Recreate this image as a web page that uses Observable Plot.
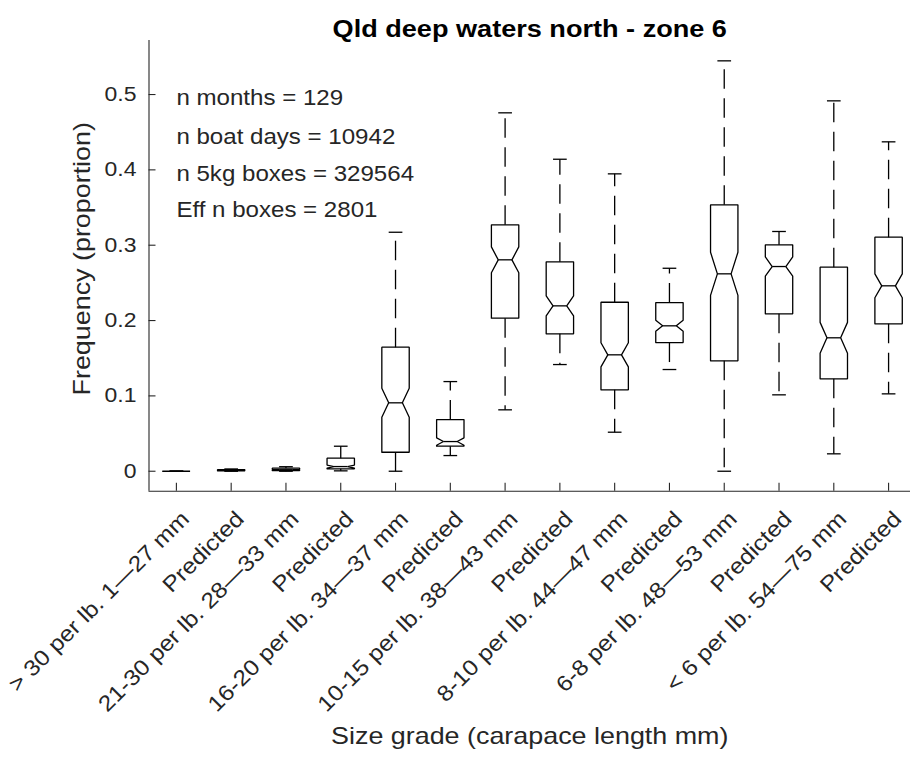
<!DOCTYPE html>
<html><head><meta charset="utf-8">
<script src="https://cdn.jsdelivr.net/npm/d3@7"></script>
<script src="https://cdn.jsdelivr.net/npm/@observablehq/plot@0.6"></script>
<style>body{margin:0;background:#fff;}</style>
</head><body><div id="chart"></div>
<script>
const categories = [
  "> 30 per lb. 1\u201427 mm", "Predicted",
  "21-30 per lb. 28\u201433 mm", "Predicted",
  "16-20 per lb. 34\u201437 mm", "Predicted",
  "10-15 per lb. 38\u201443 mm", "Predicted",
  "8-10 per lb. 44\u201447 mm", "Predicted",
  "6-8 per lb. 48\u201453 mm", "Predicted",
  "< 6 per lb. 54\u201475 mm", "Predicted"
];
const whiskerLow  = [0, 0,      0,     0.0005, 0.0,    0.0208, 0.0815, 0.1416, 0.0518, 0.135,  0.0,    0.1014, 0.0231, 0.1027];
const q1          = [0, 0.0005, 0.001, 0.0032, 0.0252, 0.0332, 0.2031, 0.1824, 0.108,  0.1708, 0.1465, 0.2089, 0.1226, 0.1956];
const median      = [0, 0.001,  0.002, 0.0062, 0.0908, 0.0394, 0.2806, 0.2195, 0.1545, 0.193,  0.262,  0.2717, 0.1771, 0.2461];
const q3          = [0, 0.002,  0.004, 0.0173, 0.1646, 0.0686, 0.3271, 0.2779, 0.2243, 0.2239, 0.3536, 0.3005, 0.2708, 0.3106];
const whiskerHigh = [0, 0.003,  0.006, 0.0332, 0.3172, 0.119,  0.4757, 0.4141, 0.3947, 0.2694, 0.5447, 0.3182, 0.4916, 0.4372];
const yTicks = [0, 0.1, 0.2, 0.3, 0.4, 0.5];
const yTickLabels = ["0", "0.1", "0.2", "0.3", "0.4", "0.5"];
const annotations = ["n months = 129", "n boat days = 10942", "n 5kg boxes = 329564", "Eff n boxes = 2801"];
const annotationY = [0.495, 0.444, 0.395, 0.346];
const nMonths = 129;
const titleText = "Qld deep waters north - zone 6";
const xLabel = "Size grade (carapace length mm)";
const yLabel = "Frequency (proportion)";

const yDomain = [-0.0265, 0.5717];
const xDomain = [0.5, 14.4];
const W = 0.25, WN = 0.125, WC = 0.125;
const ink = "#262626";

const boxes = categories.map((c, i) => ({
  i: i + 1, label: c, lo: whiskerLow[i], q1: q1[i], med: median[i], q3: q3[i], hi: whiskerHigh[i]
}));
const outline = boxes.flatMap(b => {
  const h = 1.57 * (b.q3 - b.q1) / Math.sqrt(nMonths);
  const nlo = b.med - h, nhi = b.med + h;
  return [
    [b.i - W, b.q1], [b.i - W, nlo], [b.i - WN, b.med], [b.i - W, nhi], [b.i - W, b.q3],
    [b.i + W, b.q3], [b.i + W, nhi], [b.i + WN, b.med], [b.i + W, nlo], [b.i + W, b.q1], [b.i - W, b.q1]
  ].map(([x, y]) => ({x, y, k: b.i}));
});

const width = 910, height = 757, mL = 148.5, mT = 40, mB = 266.3, mR = 0;
const frameW = width - mL - mR, frameH = height - mT - mB;

const chart = Plot.plot({
  width, height, marginLeft: mL, marginRight: mR, marginTop: mT, marginBottom: mB,
  style: {fontFamily: "'Liberation Sans', Arial, sans-serif", background: "#fff", color: ink},
  x: {type: "linear", domain: xDomain, axis: null},
  y: {domain: yDomain, axis: null},
  marks: [
    Plot.ruleX([xDomain[0]], {stroke: ink, strokeWidth: 1.1}),
    Plot.ruleY([yDomain[0]], {stroke: ink, strokeWidth: 1.1}),
    Plot.tickY(yTicks, {y: d => d, stroke: ink, strokeWidth: 1.1, insetRight: frameW - 7}),
    Plot.tickX(boxes, {x: "i", stroke: ink, strokeWidth: 1.1, insetTop: frameH - 8}),
    Plot.link(boxes, {x1: "i", x2: "i", y1: "q3", y2: "hi", stroke: "black", strokeWidth: 1.3, strokeDasharray: "19.5,9.5"}),
    Plot.link(boxes, {x1: "i", x2: "i", y1: "q1", y2: "lo", stroke: "black", strokeWidth: 1.3, strokeDasharray: "19.5,9.5"}),
    Plot.link(boxes, {x1: d => d.i - WC, x2: d => d.i + WC, y1: "hi", y2: "hi", stroke: "black", strokeWidth: 1.3}),
    Plot.link(boxes, {x1: d => d.i - WC, x2: d => d.i + WC, y1: "lo", y2: "lo", stroke: "black", strokeWidth: 1.3}),
    Plot.line(outline, {x: "x", y: "y", z: "k", stroke: "black", strokeWidth: 1.3, strokeLinejoin: "miter"}),
    Plot.link(boxes, {x1: d => d.i - WN, x2: d => d.i + WN, y1: "med", y2: "med", stroke: "black", strokeWidth: 1.3}),
    Plot.text(yTicks, {y: d => d, text: (d, i) => yTickLabels[i], frameAnchor: "left", textAnchor: "end", dx: -12.5, fontSize: 20.5, fill: ink}),
    Plot.text(boxes, {x: "i", text: "label", frameAnchor: "bottom", rotate: -45, textAnchor: "end", dx: 14, dy: 29, fontSize: 22, fill: ink}),
    Plot.text(annotations, {x: () => 1, y: (d, i) => annotationY[i], text: d => d, textAnchor: "start", fontSize: 21.5, fill: ink}),
    Plot.text([titleText], {frameAnchor: "top", textAnchor: "middle", dy: -21, fontSize: 24.2, fontWeight: "bold", fill: "#000"}),
    Plot.text([xLabel], {frameAnchor: "bottom", textAnchor: "middle", dy: 253, fontSize: 24, fill: ink}),
    Plot.text([yLabel], {y: () => 0.282, frameAnchor: "left", textAnchor: "middle", rotate: -90, dx: -67, fontSize: 24, fill: ink})
  ]
});
document.getElementById("chart").appendChild(chart);
// the reference's font renders wider than Arial; stretch glyphs horizontally
const S = 1.12;
chart.querySelectorAll("text").forEach(t => {
  const L = t.getComputedTextLength();
  if (L > 0) {
    t.setAttribute("textLength", (L * S).toFixed(2));
    t.setAttribute("lengthAdjust", "spacingAndGlyphs");
  }
});
</script>
</body></html>
